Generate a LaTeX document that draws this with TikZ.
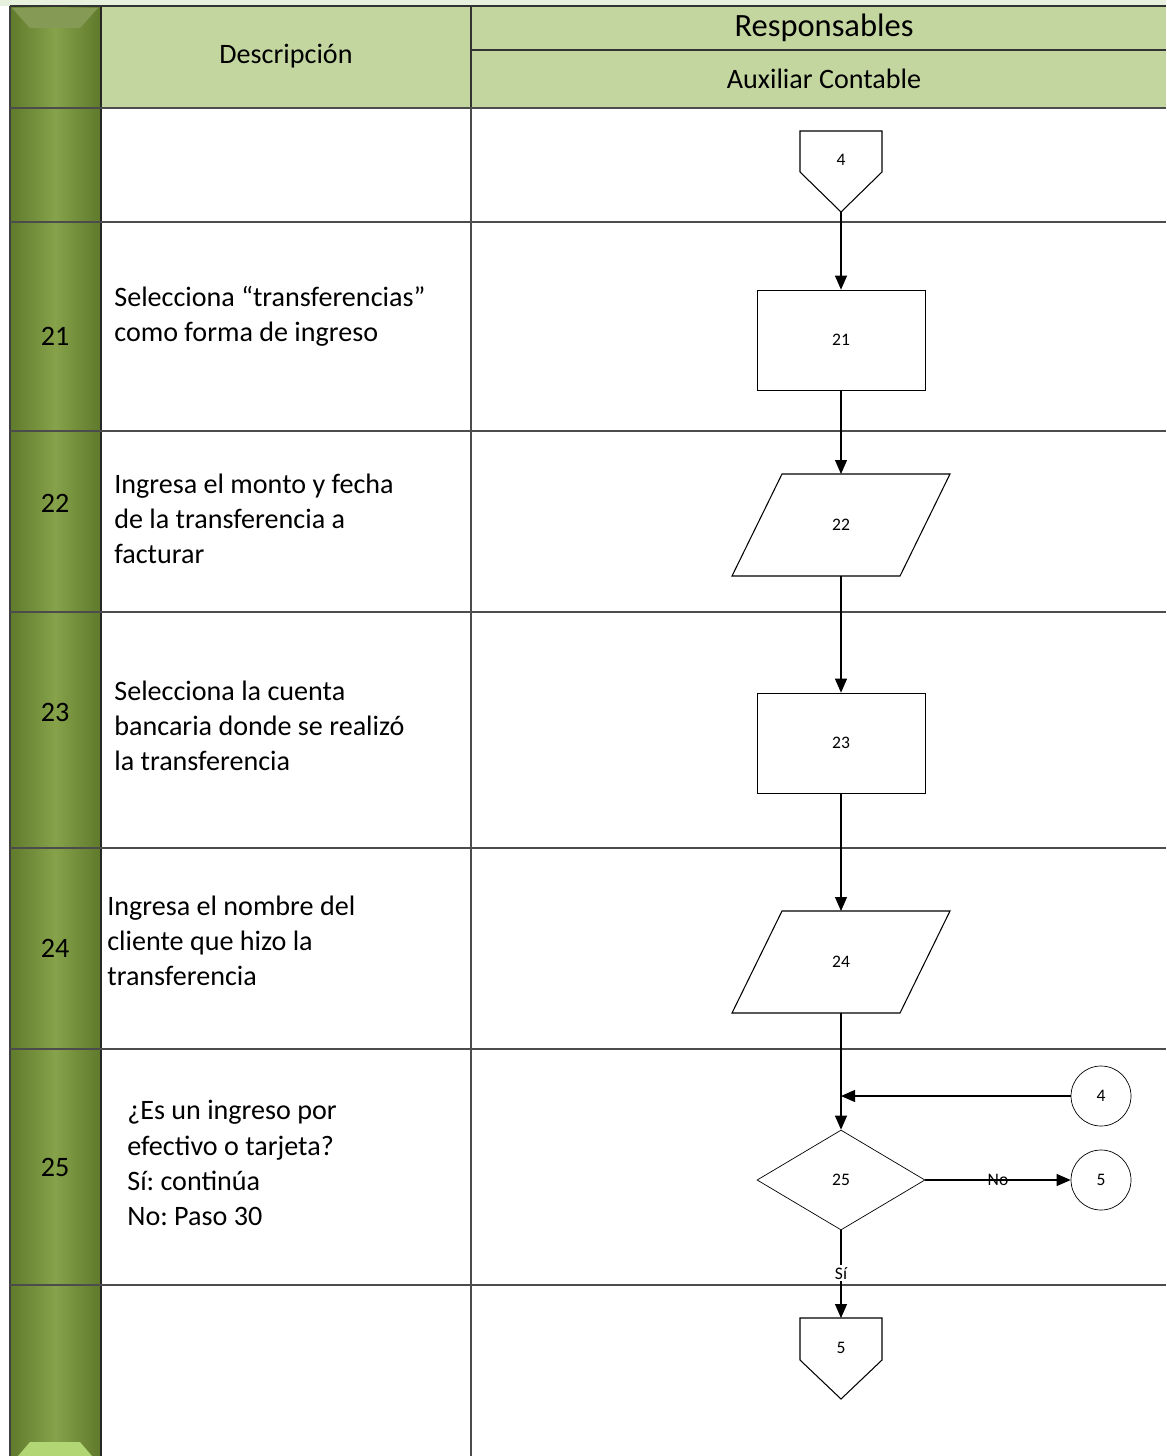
\documentclass[tikz,border=0pt]{standalone}
\usepackage{fontspec}
\setmainfont{Carlito}
\usetikzlibrary{arrows.meta,shapes.geometric,positioning,calc}
\frenchspacing

\definecolor{verdeCab}{RGB}{196,214,160}
\definecolor{verdeTira}{RGB}{232,240,222}
\definecolor{verdeBarra}{RGB}{134,162,74}
\definecolor{verdeOsc}{RGB}{96,122,44}
\definecolor{verdeClaro}{RGB}{178,214,116}

\begin{document}
\begin{tikzpicture}[x=0.02cm, y=-0.02cm,
	linea/.style={black!70, line width=0.7pt},
	cab/.style={black!80, line width=1.1pt},
	forma/.style={line width=0.6pt},
	proc/.style={draw, rectangle, minimum width=3.36cm, minimum height=2cm, font=\fontsize{10}{12}\selectfont},
	decision/.style={draw, diamond, minimum width=3.36cm, minimum height=2cm, inner sep=0pt, font=\fontsize{10}{12}\selectfont},
	conector/.style={draw, circle, minimum size=1.2cm, inner sep=0pt, font=\fontsize{10}{12}\selectfont},
	rotulo/.style={font=\fontsize{10}{12}\selectfont, inner sep=1pt},
	flecha/.style={-{Triangle[length=0.28cm, width=0.24cm]}, line width=0.6pt},
	desc/.style={anchor=west, align=left, inner sep=0pt, font=\fontsize{16}{20}\selectfont},
	paso/.style={font=\fontsize{16}{20}\selectfont}
]
	\useasboundingbox (0,0) rectangle (1166,1456);

	\fill[verdeTira] (0,0) rectangle (1166,6);

	% barra lateral
	\shade[left color=verdeOsc, right color=verdeOsc, middle color=verdeBarra] (10,6) rectangle (100,1456);
	\fill[verdeBarra!80!gray] (12,8) -- (98,8) -- (80,28) -- (30,28) -- cycle;
	\fill[verdeClaro] (18,1456) -- (30,1442) -- (80,1442) -- (92,1456) -- cycle;
	\draw[black!75, line width=0.6pt] (10,6) -- (10,1456);
	\draw[black!85, line width=1.6pt] (101,6) -- (101,1456);

	% cabecera
	\fill[verdeCab] (102,6) rectangle (1166,108);
	\draw[cab] (10,6) -- (1166,6);
	\draw[cab] (471,50) -- (1166,50);
	\draw[cab] (471,6) -- (471,108);
	\node (hdesc) at (286,56) {\fontsize{16}{20}\selectfont Descripción};
	\node (hresp) at (824,28) {\fontsize{18.5}{22}\selectfont Responsables};
	\node (haux) at (824,79) {\fontsize{16}{20}\selectfont Auxiliar Contable};

	\foreach \y in {108,222,431,612,848,1049,1285}{
		\draw[linea] (10,\y) -- (1166,\y);
	}
	\draw[linea] (471,108) -- (471,1456);

	\foreach \n/\y in {21/336, 22/503, 23/712, 24/948, 25/1167}{
		\node[paso] (n\n) at (55,\y) {\n};
	}

	\node[desc] (t21) at (114,316) {Selecciona “transferencias”\\como forma de ingreso};
	\node[desc] (t22) at (114,519) {Ingresa el monto y fecha\\de la transferencia a\\facturar};
	\node[desc] (t23) at (114,726) {Selecciona la cuenta\\bancaria donde se realizó\\la transferencia};
	\node[desc] (t24) at (107,941) {Ingresa el nombre del\\cliente que hizo la\\transferencia};
	\node[desc] (t25) at (127,1163) {¿Es un ingreso por\\efectivo o tarjeta?\\Sí: continúa\\No: Paso 30};

	% diagrama
	\node[rotulo] (c4) at (841,160) {4};
	\draw[forma] (c4.center) ++(-41,-29) -- ++(82,0) -- ++(0,41) -- ++(-41,40) coordinate (c4p) -- ++(-41,-40) -- cycle;

	\node[proc] (p21) at (841,340) {21};

	\node[rotulo] (p22) at (841,525) {22};
	\draw[forma] (p22.center) ++(-109,51) -- ++(168,0) -- ++(50,-102) -- ++(-168,0) -- cycle;
	\coordinate (p22n) at ($(p22.center)+(0,-51)$);
	\coordinate (p22s) at ($(p22.center)+(0,51)$);

	\node[proc] (p23) at (841,743) {23};

	\node[rotulo] (p24) at (841,962) {24};
	\draw[forma] (p24.center) ++(-109,51) -- ++(168,0) -- ++(50,-102) -- ++(-168,0) -- cycle;
	\coordinate (p24n) at ($(p24.center)+(0,-51)$);
	\coordinate (p24s) at ($(p24.center)+(0,51)$);

	\node[decision] (dec25) at (841,1180) {25};
	\node[conector] (k4) at (1101,1096) {4};
	\node[conector] (k5) at (1101,1180) {5};
	\coordinate (j) at (841,1096);

	\node[rotulo] (c5) at (841,1348) {5};
	\draw[forma] (c5.center) ++(-41,-30) coordinate (c5a) -- ++(82,0) -- ++(0,42) -- ++(-41,39) -- ++(-41,-39) -- cycle;
	\coordinate (c5t) at ($(c5a)+(41,0)$);

	\draw[flecha] (c4p) -- (p21.north);
	\draw[flecha] (p21.south) -- (p22n);
	\draw[flecha] (p22s) -- (p23.north);
	\draw[flecha] (p23.south) -- (p24n);
	\draw[flecha] (p24s) -- (dec25.north);
	\draw[flecha] (k4.west) -- (j);
	\draw[flecha] (dec25.east) -- node[rotulo] {No} (k5.west);
	\draw[flecha] (dec25.south) -- node[rotulo, fill=white, pos=0.49] {Sí} (c5t);
\end{tikzpicture}
\end{document}
